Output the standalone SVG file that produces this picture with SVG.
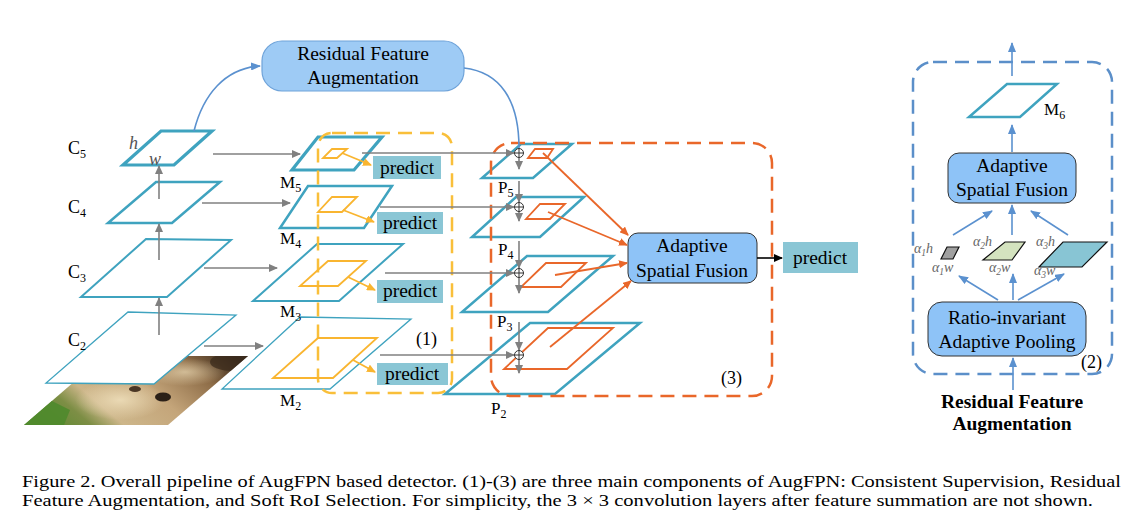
<svg xmlns="http://www.w3.org/2000/svg" width="1132" height="532" viewBox="0 0 1132 532">
<defs>
<style>
.t{font-family:"Liberation Serif","Times New Roman",serif;fill:#000}
.lbl{font-size:18px}
.box{font-size:19.5px}
.fm{fill:#fff;stroke:#3fa3bf}
.yel{fill:none;stroke:#f9b530;stroke-width:1.8}
.org{fill:none;stroke:#e9672a;stroke-width:1.8}
.gray{stroke:#808080;stroke-width:1.6;fill:none}
.pred{fill:#8ac6d5}
.blue{stroke:#5b91cf;stroke-width:1.6;fill:none}
.plus{fill:#fff;stroke:#333;stroke-width:1}
.alpha{font-family:"Liberation Serif","Times New Roman",serif;font-style:italic;font-size:14px;fill:#666}
</style>
<marker id="ag" markerUnits="userSpaceOnUse" markerWidth="9" markerHeight="8" refX="8" refY="4" orient="auto"><path d="M0,0 L9,4 L0,8 z" fill="#808080"/></marker>
<marker id="ay" markerUnits="userSpaceOnUse" markerWidth="9" markerHeight="8" refX="8" refY="4" orient="auto"><path d="M0,0 L9,4 L0,8 z" fill="#f9b530"/></marker>
<marker id="ao" markerUnits="userSpaceOnUse" markerWidth="9" markerHeight="8" refX="8" refY="4" orient="auto"><path d="M0,0 L9,4 L0,8 z" fill="#e9672a"/></marker>
<marker id="ab" markerUnits="userSpaceOnUse" markerWidth="10" markerHeight="8" refX="9" refY="4" orient="auto"><path d="M0,0 L10,4 L0,8 z" fill="#5b91cf"/></marker>
<marker id="ak" markerUnits="userSpaceOnUse" markerWidth="9" markerHeight="8" refX="8" refY="4" orient="auto"><path d="M0,0 L9,4 L0,8 z" fill="#000"/></marker>
<clipPath id="imgclip"><polygon points="104,356 248,356 168,425 24,425"/></clipPath>
<linearGradient id="bear" x1="0" y1="0.7" x2="1" y2="0.3">
<stop offset="0" stop-color="#5a8a30"/>
<stop offset="0.18" stop-color="#7d8e45"/>
<stop offset="0.3" stop-color="#cdb68a"/>
<stop offset="0.55" stop-color="#c4a57a"/>
<stop offset="0.8" stop-color="#8d6c47"/>
<stop offset="1" stop-color="#3a2a1c"/>
</linearGradient>
<radialGradient id="face" cx="0.5" cy="0.5" r="0.5">
<stop offset="0" stop-color="#ead9b4"/>
<stop offset="1" stop-color="#ead9b4" stop-opacity="0"/>
</radialGradient>
</defs>
<rect width="1132" height="532" fill="#fff"/>

<!-- input image -->
<g id="input-image" clip-path="url(#imgclip)">
<rect x="20" y="350" width="235" height="80" fill="url(#bear)"/>
<polygon points="20,430 62,430 70,410 50,400 20,405" fill="#4f8a2c" opacity="0.9"/>
<ellipse cx="120" cy="400" rx="45" ry="20" fill="url(#face)"/>
<ellipse cx="185" cy="372" rx="40" ry="14" fill="url(#face)" opacity="0.7"/>
<ellipse cx="135" cy="389" rx="6" ry="3" fill="#4a3624"/>
<ellipse cx="163" cy="397" rx="8" ry="4.5" fill="#2b2018"/>
<ellipse cx="232" cy="362" rx="22" ry="9" fill="#3b2b1c" opacity="0.75"/>
</g>

<!-- backbone C layers -->
<g id="C2"><polygon class="fm" stroke-width="1.3" points="128,312 236,315 154,384 46,383"/><text class="t lbl" x="68" y="346">C<tspan font-size="12" dy="4">2</tspan></text></g>
<g id="C3"><polygon class="fm" stroke-width="2" points="146,239 231,240 167,297 81,297"/><text class="t lbl" x="68" y="278">C<tspan font-size="12" dy="4">3</tspan></text></g>
<g id="C4"><polygon class="fm" stroke-width="2.5" points="156,182 220,182 172,223 108,223"/><text class="t lbl" x="68" y="213">C<tspan font-size="12" dy="4">4</tspan></text></g>
<g id="C5"><polygon class="fm" stroke-width="3.2" points="161,131 212,131 174,165 123,165"/><text class="t lbl" x="68" y="154">C<tspan font-size="12" dy="4">5</tspan></text>
<text x="129" y="149" font-family="Liberation Serif,serif" font-style="italic" font-size="18" fill="#555">h</text>
<text x="149" y="165" font-family="Liberation Serif,serif" font-style="italic" font-size="18" fill="#555">w</text></g>

<!-- M layers -->
<g id="M2"><polygon class="fm" stroke-width="1.3" points="300,317 411,319 330,389 222,389"/><text class="t" font-size="17" x="280" y="406">M<tspan font-size="12" dy="4">2</tspan></text></g>
<g id="M3"><polygon class="fm" stroke-width="2" points="317,244 403,244 339,301 253,301"/><text class="t" font-size="17" x="280" y="317">M<tspan font-size="12" dy="4">3</tspan></text></g>
<g id="M4"><polygon class="fm" stroke-width="2.5" points="308,186 392,186 364,228 280,228"/><text class="t" font-size="17" x="280" y="244">M<tspan font-size="12" dy="4">4</tspan></text></g>
<g id="M5"><polygon class="fm" stroke-width="3.2" points="318,137 382,137 354,170 292,170"/><text class="t" font-size="17" x="280" y="188">M<tspan font-size="12" dy="4">5</tspan></text></g>

<!-- P layers -->
<g id="P2"><polygon class="fm" stroke-width="2.5" points="530,323 640,323 555,394 445,394"/><text class="t" font-size="17" x="491" y="414">P<tspan font-size="12" dy="4">2</tspan></text></g>
<g id="P3"><polygon class="fm" stroke-width="2.5" points="527,256 613,256 548,312 462,312"/><text class="t" font-size="17" x="497" y="327">P<tspan font-size="12" dy="4">3</tspan></text></g>
<g id="P4"><polygon class="fm" stroke-width="2.5" points="516,197 584,197 540,237 472,237"/><text class="t" font-size="17" x="498" y="255">P<tspan font-size="12" dy="4">4</tspan></text></g>
<g id="P5"><polygon class="fm" stroke-width="2.5" points="521,144 572,144 533,178 482,178"/><text class="t" font-size="17" x="498" y="193">P<tspan font-size="12" dy="4">5</tspan></text></g>

<!-- dashed component boxes -->
<g id="box1"><rect x="318" y="133" width="134" height="260" rx="14" fill="none" stroke="#f9bf3a" stroke-width="2.5" stroke-dasharray="14 8"/><text class="t lbl" x="416" y="345">(1)</text></g>
<g id="box3"><rect x="491" y="143" width="281" height="253" rx="20" fill="none" stroke="#e9672a" stroke-width="2.5" stroke-dasharray="14 8"/><text class="t lbl" x="721" y="384">(3)</text></g>

<!-- inner RoIs -->
<g id="roi-M">
<polygon class="yel" points="332,149 347,149 337,158 323,158"/>
<polygon class="yel" points="332,197 357,197 342,212 318,212"/>
<polygon class="yel" points="328,261 366,261 338,286 300,286"/>
<polygon class="yel" points="318,338 377,338 333,378 273,378"/>
</g>
<g id="roi-P">
<polygon class="org" points="535,149 553,149 547,158 528,158"/>
<polygon class="org" points="540,204 565,204 550,219 526,219"/>
<polygon class="org" points="546,263 586,263 561,287 521,287"/>
<polygon class="org" points="548,328 613,328 567,369 504,369"/>
</g>

<!-- predict boxes -->
<g id="predict1"><rect class="pred" x="373" y="156" width="68" height="23"/><text class="t box" x="407" y="174" text-anchor="middle">predict</text></g>
<g id="predict2"><rect class="pred" x="377" y="212" width="66" height="22"/><text class="t box" x="410" y="229" text-anchor="middle">predict</text></g>
<g id="predict3"><rect class="pred" x="377" y="280" width="66" height="23"/><text class="t box" x="410" y="297" text-anchor="middle">predict</text></g>
<g id="predict4"><rect class="pred" x="377" y="363" width="71" height="22"/><text class="t box" x="412" y="380" text-anchor="middle">predict</text></g>
<g id="predict5"><rect class="pred" x="783" y="242" width="75" height="31"/><text class="t box" x="820" y="264" text-anchor="middle">predict</text></g>

<!-- RFA box -->
<g id="rfa"><rect x="262" y="41" width="202" height="50" rx="20" fill="#9ecbf5" stroke="#6fa3d9" stroke-width="1.2"/><text class="t box" x="363" y="60" text-anchor="middle">Residual Feature</text><text class="t box" x="363" y="84" text-anchor="middle">Augmentation</text></g>

<!-- ASF box -->
<g id="asf"><rect x="628" y="233" width="129" height="50" rx="10" fill="#8ec3f7" stroke="#333" stroke-width="1"/><text class="t box" x="692" y="252" text-anchor="middle">Adaptive</text><text class="t box" x="692" y="277" text-anchor="middle">Spatial Fusion</text></g>

<!-- connectors -->
<g id="connectors">
<line class="gray" x1="159" y1="335" x2="159" y2="298" marker-end="url(#ag)"/>
<line class="gray" x1="159" y1="260" x2="159" y2="224" marker-end="url(#ag)"/>
<line class="gray" x1="159" y1="199" x2="159" y2="166" marker-end="url(#ag)"/>
<line class="gray" x1="213" y1="154" x2="300" y2="154" marker-end="url(#ag)"/>
<line class="gray" x1="202" y1="203" x2="290" y2="203" marker-end="url(#ag)"/>
<line class="gray" x1="204" y1="268" x2="277" y2="268" marker-end="url(#ag)"/>
<line class="gray" x1="204" y1="346" x2="263" y2="346" marker-end="url(#ag)"/>
<line class="gray" x1="362" y1="153" x2="514" y2="153" marker-end="url(#ag)"/>
<line class="gray" x1="380" y1="207" x2="514" y2="207" marker-end="url(#ag)"/>
<line class="gray" x1="385" y1="273" x2="514" y2="273" marker-end="url(#ag)"/>
<line class="gray" x1="380" y1="355" x2="514" y2="355" marker-end="url(#ag)"/>
<line class="gray" x1="519" y1="158" x2="519" y2="169" marker-end="url(#ag)"/>
<line class="gray" x1="519" y1="181" x2="519" y2="202" marker-end="url(#ag)"/>
<line class="gray" x1="519" y1="212" x2="519" y2="221" marker-end="url(#ag)"/>
<line class="gray" x1="519" y1="241" x2="519" y2="268" marker-end="url(#ag)"/>
<line class="gray" x1="519" y1="278" x2="519" y2="293" marker-end="url(#ag)"/>
<line class="gray" x1="519" y1="322" x2="519" y2="350" marker-end="url(#ag)"/>
<line class="gray" x1="519" y1="360" x2="519" y2="373" marker-end="url(#ag)"/>
<g><circle class="plus" cx="519" cy="153" r="4.5"/><path d="M514.5,153 h9 M519,148.5 v9" stroke="#333" stroke-width="1"/></g>
<g><circle class="plus" cx="519" cy="207" r="4.5"/><path d="M514.5,207 h9 M519,202.5 v9" stroke="#333" stroke-width="1"/></g>
<g><circle class="plus" cx="519" cy="273" r="4.5"/><path d="M514.5,273 h9 M519,268.5 v9" stroke="#333" stroke-width="1"/></g>
<g><circle class="plus" cx="519" cy="355" r="4.5"/><path d="M514.5,355 h9 M519,350.5 v9" stroke="#333" stroke-width="1"/></g>
<path class="blue" d="M194,131 C203,95 225,68 260,66" marker-end="url(#ab)"/>
<path class="blue" d="M464,68 C500,72 519,100 519,148"/>
<line class="yel" x1="342" y1="153" x2="371" y2="165" marker-end="url(#ay)"/>
<line class="yel" x1="343" y1="210" x2="374" y2="222" marker-end="url(#ay)"/>
<line class="yel" x1="348" y1="277" x2="375" y2="290" marker-end="url(#ay)"/>
<line class="yel" x1="353" y1="360" x2="375" y2="372" marker-end="url(#ay)"/>
<line class="org" x1="543" y1="153" x2="628" y2="235" marker-end="url(#ao)"/>
<line class="org" x1="548" y1="212" x2="627" y2="245" marker-end="url(#ao)"/>
<line class="org" x1="555" y1="275" x2="627" y2="263" marker-end="url(#ao)"/>
<line class="org" x1="550" y1="347" x2="631" y2="281" marker-end="url(#ao)"/>
<line x1="757" y1="258" x2="782" y2="258" stroke="#000" stroke-width="1.6" marker-end="url(#ak)"/>
</g>

<!-- right panel (2) -->
<g id="panel2">
<rect x="913" y="62" width="199" height="312" rx="20" fill="none" stroke="#5b8fc9" stroke-width="2.5" stroke-dasharray="14 8"/>
<text class="t lbl" x="1081" y="368">(2)</text>
</g>
<g id="M6"><polygon fill="#fff" stroke="#3fa3bf" stroke-width="2.5" points="1007,84 1057,84 1020,117 969,117"/><text class="t" font-size="17" x="1044" y="115">M<tspan font-size="12" dy="4">6</tspan></text></g>
<g id="asf2"><rect x="948" y="153" width="128" height="50" rx="11" fill="#8ec3f7" stroke="#333" stroke-width="1"/><text class="t box" x="1012" y="172" text-anchor="middle">Adaptive</text><text class="t box" x="1012" y="196" text-anchor="middle">Spatial Fusion</text></g>
<g id="rap"><rect x="928" y="302" width="158" height="54" rx="14" fill="#8ec3f7" stroke="#333" stroke-width="1"/><text class="t box" x="1007" y="324" text-anchor="middle">Ratio-invariant</text><text class="t box" x="1007" y="348" text-anchor="middle">Adaptive Pooling</text></g>
<g id="pool1"><polygon fill="#a0a0a0" stroke="#111" stroke-width="1.2" points="947,247 959,247 953,259 941,259"/><text class="alpha" x="914" y="253">α<tspan font-size="9.5" dy="3">1</tspan><tspan dy="-3">h</tspan></text><text class="alpha" x="932" y="272">α<tspan font-size="9.5" dy="3">1</tspan><tspan dy="-3">w</tspan></text></g>
<g id="pool2"><polygon fill="#d4e3bf" stroke="#111" stroke-width="1.2" points="1005,242 1025,242 1012,260 983,260"/><text class="alpha" x="973" y="246">α<tspan font-size="9.5" dy="3">2</tspan><tspan dy="-3">h</tspan></text><text class="alpha" x="989" y="272">α<tspan font-size="9.5" dy="3">2</tspan><tspan dy="-3">w</tspan></text></g>
<g id="pool3"><polygon fill="#88c5d4" stroke="#111" stroke-width="1.2" points="1063,242 1107,242 1082,267 1039,267"/><text class="alpha" x="1036" y="246">α<tspan font-size="9.5" dy="3">3</tspan><tspan dy="-3">h</tspan></text><text class="alpha" x="1034" y="275">α<tspan font-size="9.5" dy="3">3</tspan><tspan dy="-3">w</tspan></text></g>
<g id="rfa-label"><text class="t" font-size="19.5" font-weight="bold" x="1012" y="408" text-anchor="middle">Residual Feature</text><text class="t" font-size="19.5" font-weight="bold" x="1012" y="430" text-anchor="middle">Augmentation</text></g>
<g id="connectors-panel2">
<line class="blue" x1="1013" y1="390" x2="1013" y2="358" marker-end="url(#ab)"/>
<line class="blue" x1="998" y1="300" x2="959" y2="276" marker-end="url(#ab)"/>
<line class="blue" x1="1013" y1="300" x2="1013" y2="274" marker-end="url(#ab)"/>
<line class="blue" x1="1018" y1="300" x2="1064" y2="274" marker-end="url(#ab)"/>
<line class="blue" x1="953" y1="235" x2="992" y2="211" marker-end="url(#ab)"/>
<line class="blue" x1="1012" y1="235" x2="1012" y2="205" marker-end="url(#ab)"/>
<line class="blue" x1="1068" y1="235" x2="1031" y2="211" marker-end="url(#ab)"/>
<line class="blue" x1="1012" y1="152" x2="1012" y2="125" marker-end="url(#ab)"/>
<line class="blue" x1="1012" y1="76" x2="1012" y2="43" marker-end="url(#ab)"/>
</g>

<!-- caption -->
<g id="caption">
<text class="t" font-size="17.5" x="22" y="487" textLength="1099" lengthAdjust="spacingAndGlyphs">Figure 2. Overall pipeline of AugFPN based detector.  (1)-(3) are three main components of AugFPN: Consistent Supervision, Residual</text>
<text class="t" font-size="17.5" x="22" y="506" textLength="1071" lengthAdjust="spacingAndGlyphs">Feature Augmentation, and Soft RoI Selection. For simplicity, the 3 × 3 convolution layers after feature summation are not shown.</text>
</g>
</svg>
